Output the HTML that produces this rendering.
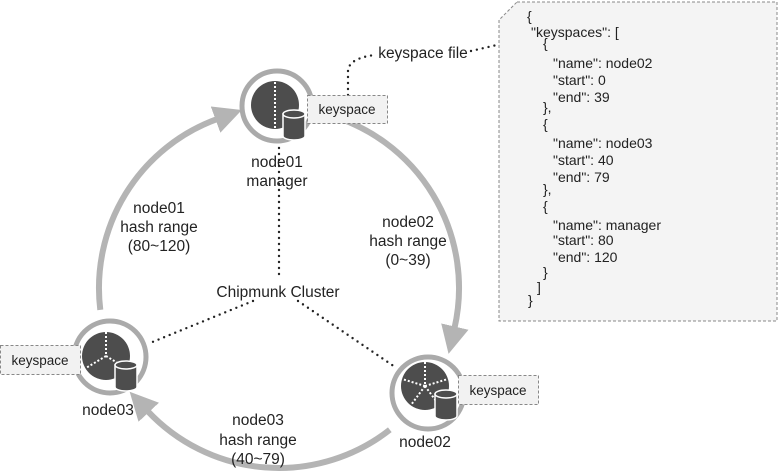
<!DOCTYPE html>
<html><head><meta charset="utf-8"><style>
html,body{margin:0;padding:0;background:#fff;}
svg{display:block;font-family:"Liberation Sans","DejaVu Sans",sans-serif;}
</style></head><body>
<svg width="780" height="474" viewBox="0 0 780 474" xmlns="http://www.w3.org/2000/svg">
<defs>
<marker id="ah" markerUnits="userSpaceOnUse" markerWidth="30" markerHeight="30" refX="2" refY="14" orient="auto">
<polygon points="0,0 28,14 0,28" fill="#b4b4b4"/>
</marker>
<g id="cyl">
<path d="M-11,-10 L-11,12 A11,4 0 0 0 11,12 L11,-10 Z" fill="#4d4d4d" stroke="#fff" stroke-width="1.5"/>
<ellipse cx="0" cy="-10" rx="11" ry="4" fill="#4d4d4d" stroke="#fff" stroke-width="1.5"/>
</g>
</defs>

<g fill="none" stroke="#b4b4b4" stroke-width="6">
<path d="M100.3,309.9 A180,180 0 0 1 217.4,118.9" marker-end="url(#ah)"/>
<path d="M325.6,114.1 A180,180 0 0 1 454.4,328.5" marker-end="url(#ah)"/>
<path d="M389.8,429.8 A180,180 0 0 1 147.4,410.8" marker-end="url(#ah)"/>
</g>

<g fill="none" stroke="#222" stroke-width="2.4" stroke-dasharray="0,6" stroke-linecap="round">
<line x1="279" y1="142" x2="279" y2="275"/>
<line x1="253" y1="301" x2="150" y2="343"/>
<line x1="298" y1="301" x2="395" y2="367"/>
<path d="M348,95 L348,70 Q350,58 375,55"/>
<line x1="471" y1="51" x2="497" y2="45"/>
</g>

<path d="M517,2 L777,2 L777,321 L499,321 L499,20 Z" fill="#f4f4f4" stroke="#888" stroke-width="1" stroke-dasharray="3,2"/>
<g font-size="14" fill="#222">
<text x="527" y="21">{</text>
<text x="531" y="37">"keyspaces": [</text>
<text x="543" y="48">{</text>
<text x="553" y="68">"name": node02</text>
<text x="553" y="85">"start": 0</text>
<text x="553" y="102">"end": 39</text>
<text x="543" y="112">},</text>
<text x="543" y="129">{</text>
<text x="553" y="148">"name": node03</text>
<text x="553" y="165">"start": 40</text>
<text x="553" y="182">"end": 79</text>
<text x="543" y="194">},</text>
<text x="543" y="211">{</text>
<text x="553" y="230">"name": manager</text>
<text x="553" y="245">"start": 80</text>
<text x="553" y="262">"end": 120</text>
<text x="543" y="277">}</text>
<text x="537" y="292">]</text>
<text x="528" y="305">}</text>
</g>

<circle cx="277" cy="106" r="35" fill="#fff" stroke="#aaa" stroke-width="5"/>
<circle cx="275" cy="105" r="24" fill="#4d4d4d"/>
<line x1="275" y1="82" x2="275" y2="128" stroke="#fff" stroke-width="2" stroke-dasharray="2,2"/>
<use href="#cyl" x="294" y="124"/>

<circle cx="110" cy="357" r="36" fill="#fff" stroke="#aaa" stroke-width="5"/>
<circle cx="106" cy="356" r="24" fill="#4d4d4d"/>
<g stroke="#fff" stroke-width="2" stroke-dasharray="2,2">
<line x1="106" y1="332" x2="106" y2="356"/>
<line x1="106" y1="356" x2="86" y2="368"/>
<line x1="106" y1="356" x2="126" y2="368"/>
</g>
<use href="#cyl" x="126" y="375"/>

<circle cx="428" cy="393" r="36" fill="#fff" stroke="#aaa" stroke-width="5"/>
<circle cx="425" cy="386" r="24" fill="#4d4d4d"/>
<g stroke="#fff" stroke-width="2" stroke-dasharray="2,2">
<line x1="425" y1="362" x2="425" y2="386"/>
<line x1="425" y1="386" x2="402" y2="379"/>
<line x1="425" y1="386" x2="448" y2="379"/>
<line x1="425" y1="386" x2="411" y2="405"/>
<line x1="425" y1="386" x2="439" y2="405"/>
</g>
<use href="#cyl" x="446" y="404"/>

<g fill="#f2f2f2" stroke="#888" stroke-width="1" stroke-dasharray="3,2">
<rect x="307.5" y="95.5" width="80" height="28"/>
<rect x="0.5" y="345.5" width="80" height="29"/>
<rect x="458.5" y="375.5" width="80" height="29"/>
</g>
<g font-size="13.5" fill="#222" text-anchor="middle">
<text x="347" y="114">keyspace</text>
<text x="40" y="365">keyspace</text>
<text x="498" y="395">keyspace</text>
</g>

<g font-size="15.5" fill="#222" text-anchor="middle">
<text x="277" y="167">node01</text>
<text x="277" y="186">manager</text>
<text x="159" y="213">node01</text>
<text x="159" y="232">hash range</text>
<text x="159" y="251">(80~120)</text>
<text x="408" y="227">node02</text>
<text x="408" y="246">hash range</text>
<text x="408" y="265">(0~39)</text>
<text x="278" y="297">Chipmunk Cluster</text>
<text x="258" y="425">node03</text>
<text x="258" y="445">hash range</text>
<text x="258" y="464">(40~79)</text>
<text x="108" y="415">node03</text>
<text x="425" y="447">node02</text>
<text x="423" y="58">keyspace file</text>
</g>
</svg>
</body></html>
